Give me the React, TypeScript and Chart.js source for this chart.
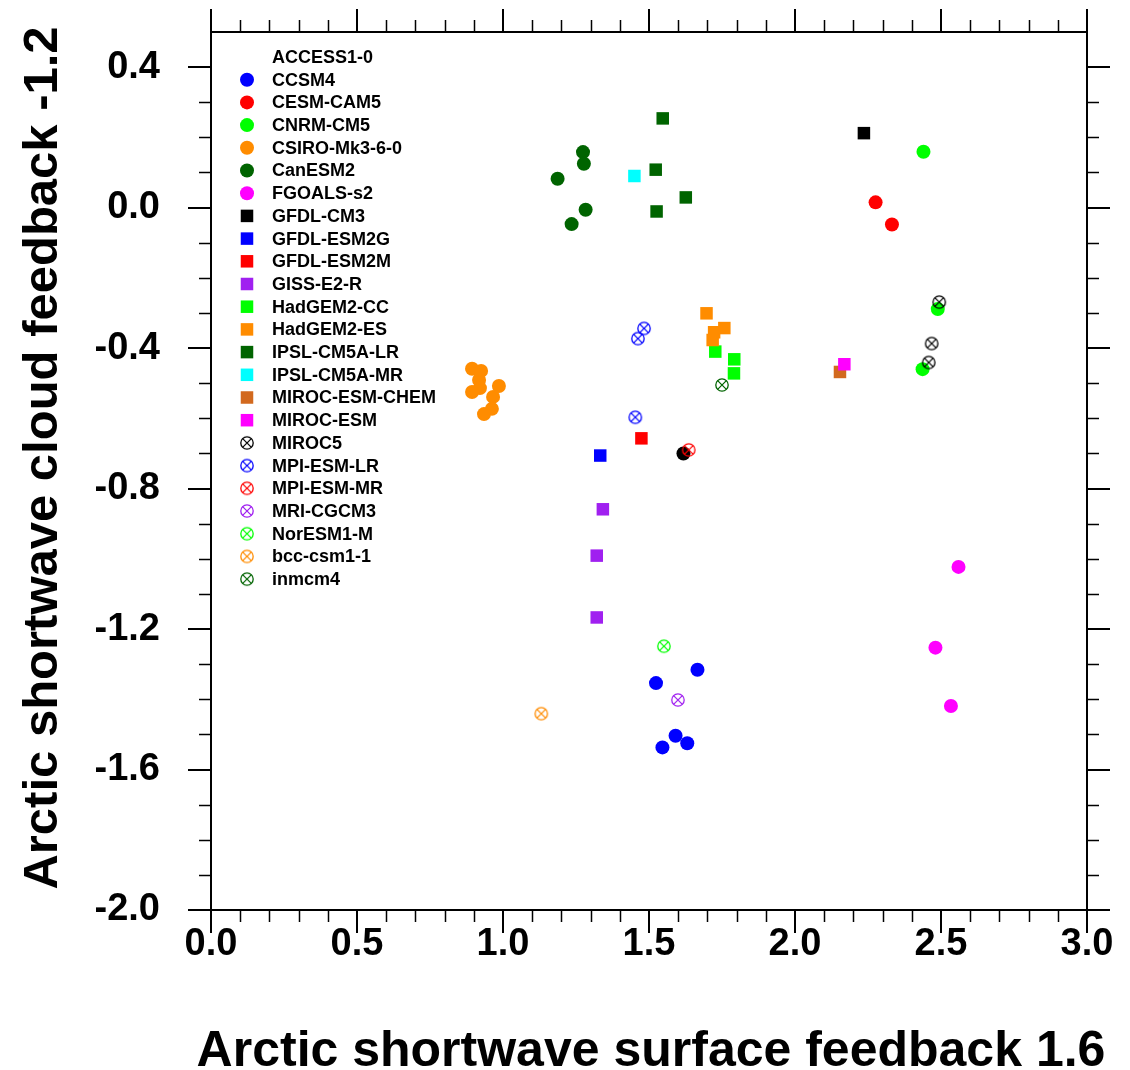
import React, { useEffect, useRef } from "react";
import { Chart, registerables } from "chart.js";

Chart.register(...registerables);

// ---------- data ----------
const MODEL_NAMES = [
  "ACCESS1-0", "CCSM4", "CESM-CAM5", "CNRM-CM5", "CSIRO-Mk3-6-0", "CanESM2",
  "FGOALS-s2", "GFDL-CM3", "GFDL-ESM2G", "GFDL-ESM2M", "GISS-E2-R", "HadGEM2-CC",
  "HadGEM2-ES", "IPSL-CM5A-LR", "IPSL-CM5A-MR", "MIROC-ESM-CHEM", "MIROC-ESM",
  "MIROC5", "MPI-ESM-LR", "MPI-ESM-MR", "MRI-CGCM3", "NorESM1-M", "bcc-csm1-1", "inmcm4",
];

const ACCESS1_0: [number, number][] = [[1.618, -0.7]];
const CCSM4: [number, number][] = [[1.666, -1.316], [1.524, -1.354], [1.591, -1.504], [1.631, -1.525], [1.546, -1.537]];
const CESM_CAM5: [number, number][] = [[2.276, 0.015], [2.332, -0.048]];
const CNRM_CM5: [number, number][] = [[2.44, 0.159], [2.489, -0.289], [2.437, -0.46]];
const CSIRO_MK3_6_0: [number, number][] = [
  [0.894, -0.459], [0.925, -0.465], [0.918, -0.491], [0.921, -0.514], [0.894, -0.525],
  [0.986, -0.508], [0.966, -0.539], [0.962, -0.573], [0.935, -0.588],
];
const CANESM2: [number, number][] = [[1.274, 0.158], [1.277, 0.125], [1.187, 0.082], [1.283, -0.006], [1.235, -0.047]];
const FGOALS_S2: [number, number][] = [[2.56, -1.023], [2.481, -1.253], [2.534, -1.419]];
const GFDL_CM3: [number, number][] = [[2.236, 0.212]];
const GFDL_ESM2G: [number, number][] = [[1.333, -0.706]];
const GFDL_ESM2M: [number, number][] = [[1.474, -0.657]];
const GISS_E2_R: [number, number][] = [[1.342, -0.859], [1.321, -0.991], [1.321, -1.167]];
const HADGEM2_CC: [number, number][] = [[1.727, -0.41], [1.792, -0.432], [1.791, -0.472]];
const HADGEM2_ES: [number, number][] = [[1.697, -0.301], [1.758, -0.343], [1.723, -0.355], [1.718, -0.377]];
const IPSL_CM5A_LR: [number, number][] = [[1.547, 0.254], [1.523, 0.108], [1.626, 0.029], [1.526, -0.011]];
const IPSL_CM5A_MR: [number, number][] = [[1.45, 0.09]];
const MIROC_ESM_CHEM: [number, number][] = [[2.154, -0.468]];
const MIROC_ESM: [number, number][] = [[2.169, -0.446]];
const MIROC5: [number, number][] = [[2.494, -0.269], [2.468, -0.387], [2.458, -0.441]];
const MPI_ESM_LR: [number, number][] = [[1.483, -0.344], [1.462, -0.373], [1.453, -0.597]];
const MPI_ESM_MR: [number, number][] = [[1.636, -0.69]];
const MRI_CGCM3: [number, number][] = [[1.599, -1.402]];
const NORESM1_M: [number, number][] = [[1.551, -1.249]];
const BCC_CSM1_1: [number, number][] = [[1.131, -1.441]];
const INMCM4: [number, number][] = [[1.75, -0.505]];

const SERIES_POINTS = [
  ACCESS1_0, CCSM4, CESM_CAM5, CNRM_CM5, CSIRO_MK3_6_0, CANESM2, FGOALS_S2, GFDL_CM3,
  GFDL_ESM2G, GFDL_ESM2M, GISS_E2_R, HADGEM2_CC, HADGEM2_ES, IPSL_CM5A_LR, IPSL_CM5A_MR,
  MIROC_ESM_CHEM, MIROC_ESM, MIROC5, MPI_ESM_LR, MPI_ESM_MR, MRI_CGCM3, NORESM1_M, BCC_CSM1_1, INMCM4,
];

const X_MAJOR = [0.0, 0.5, 1.0, 1.5, 2.0, 2.5, 3.0];
const X_MINOR = [0.1, 0.2, 0.3, 0.4, 0.6, 0.7, 0.8, 0.9, 1.1, 1.2, 1.3, 1.4, 1.6, 1.7, 1.8, 1.9, 2.1, 2.2, 2.3, 2.4, 2.6, 2.7, 2.8, 2.9];
const Y_MAJOR = [-2.0, -1.6, -1.2, -0.8, -0.4, 0.0, 0.4];
const Y_MINOR = [-1.9, -1.8, -1.7, -1.5, -1.4, -1.3, -1.1, -1.0, -0.9, -0.7, -0.6, -0.5, -0.3, -0.2, -0.1, 0.1, 0.2, 0.3];

const X_TITLE = "Arctic shortwave surface feedback 1.6";
const Y_TITLE = "Arctic shortwave cloud feedback -1.2";

// ---------- styles ----------
const COLORS = [
  "#000000", "#0000FF", "#FF0000", "#00FF00", "#FF8C00", "#006400", "#FF00FF", "#000000",
  "#0000FF", "#FF0000", "#A020F0", "#00FF00", "#FF8C00", "#006400", "#00FFFF", "#D2691E",
  "#FF00FF", "#000000", "#0000FF", "#FF0000", "#A020F0", "#00FF00", "#FF8C00", "#006400",
];
const MARKERS = [
  "dot", "dot", "dot", "dot", "dot", "dot", "dot", "square", "square", "square", "square", "square",
  "square", "square", "square", "square", "square", "xcircle", "xcircle", "xcircle", "xcircle", "xcircle", "xcircle", "xcircle",
];
const LEGEND_MARKER_HIDDEN = [true];

const FONT = "'Liberation Sans', Arial, Helvetica, sans-serif";
const CIRCLE_R = 7;
const SQUARE_SIDE = 12.5;

function makeXCircle(color: string): HTMLCanvasElement {
  const c = document.createElement("canvas");
  c.width = 16;
  c.height = 16;
  const g = c.getContext("2d")!;
  g.strokeStyle = color;
  g.lineWidth = 1.3;
  g.beginPath();
  g.arc(8, 8, 6.2, 0, Math.PI * 2);
  g.stroke();
  const d = 6.2 * Math.SQRT1_2;
  g.beginPath();
  g.moveTo(8 - d, 8 - d);
  g.lineTo(8 + d, 8 + d);
  g.moveTo(8 + d, 8 - d);
  g.lineTo(8 - d, 8 + d);
  g.stroke();
  return c;
}

function noPad(s: any) {
  s.paddingTop = 0;
  s.paddingBottom = 0;
  s.paddingLeft = 0;
  s.paddingRight = 0;
}

export default function App() {
  const canvasRef = useRef<HTMLCanvasElement | null>(null);

  useEffect(() => {
    const canvas = canvasRef.current;
    if (!canvas) return;

    const images = COLORS.map((c, i) => (MARKERS[i] === "xcircle" ? makeXCircle(c) : null));

    const datasets = SERIES_POINTS.map((pts, i) => {
      const m = MARKERS[i];
      return {
        label: MODEL_NAMES[i],
        data: pts.map(([x, y]) => ({ x, y })),
        pointStyle: m === "xcircle" ? images[i] : m === "square" ? "rect" : "circle",
        pointRadius: m === "square" ? SQUARE_SIDE / Math.SQRT2 : CIRCLE_R,
        pointBackgroundColor: COLORS[i],
        pointBorderColor: COLORS[i],
        pointBorderWidth: 0,
        order: SERIES_POINTS.length - i,
      };
    });

    const minorTicks = {
      id: "minorTicks",
      afterDraw(chart: any) {
        const ctx = chart.ctx;
        const { left, right, top, bottom } = chart.chartArea;
        const xs = chart.scales.x;
        const ys = chart.scales.y;
        ctx.save();
        ctx.strokeStyle = "#000";
        ctx.lineWidth = 1.5;
        ctx.beginPath();
        X_MINOR.forEach((v) => {
          const px = Math.round(xs.getPixelForValue(v)) + 0.5;
          ctx.moveTo(px, bottom);
          ctx.lineTo(px, bottom + 12);
          ctx.moveTo(px, top);
          ctx.lineTo(px, top - 12);
        });
        Y_MINOR.forEach((v) => {
          const py = Math.round(ys.getPixelForValue(v)) + 0.5;
          ctx.moveTo(left, py);
          ctx.lineTo(left - 12, py);
          ctx.moveTo(right, py);
          ctx.lineTo(right + 12, py);
        });
        ctx.stroke();
        ctx.restore();
      },
    };

    const axisTitles = {
      id: "axisTitles",
      afterDraw(chart: any) {
        const ctx = chart.ctx;
        const { left, right } = chart.chartArea;
        ctx.save();
        ctx.fillStyle = "#000";
        ctx.textAlign = "center";
        ctx.textBaseline = "alphabetic";
        ctx.font = `bold 50px ${FONT}`;
        ctx.fillText(X_TITLE, (left + right) / 2 + 2, 1066);
        ctx.translate(57, 458);
        ctx.rotate(-Math.PI / 2);
        ctx.font = `bold 49px ${FONT}`;
        ctx.fillText(Y_TITLE, 0, 0);
        ctx.restore();
      },
    };

    const legendPlugin = {
      id: "insideLegend",
      afterDraw(chart: any) {
        const ctx = chart.ctx;
        const markerX = 247;
        const textX = 272;
        const y0 = 57;
        const dy = 22.7;
        ctx.save();
        ctx.font = `bold 18px ${FONT}`;
        ctx.textBaseline = "middle";
        ctx.textAlign = "left";
        MODEL_NAMES.forEach((name, i) => {
          const y = y0 + i * dy;
          if (!LEGEND_MARKER_HIDDEN[i]) {
            const m = MARKERS[i];
            ctx.fillStyle = COLORS[i];
            if (m === "dot") {
              ctx.beginPath();
              ctx.arc(markerX, y, CIRCLE_R, 0, Math.PI * 2);
              ctx.fill();
            } else if (m === "square") {
              ctx.fillRect(markerX - SQUARE_SIDE / 2, y - SQUARE_SIDE / 2, SQUARE_SIDE, SQUARE_SIDE);
            } else {
              const img = images[i]!;
              ctx.drawImage(img, markerX - img.width / 2, y - img.height / 2);
            }
          }
          ctx.fillStyle = "#000";
          ctx.fillText(name, textX, y + 1);
        });
        ctx.restore();
      },
    };

    const tickFont = { family: FONT, size: 38, weight: "bold" as const, lineHeight: 1 };
    const gridOpts = { drawOnChartArea: false, drawTicks: true, tickLength: 23, color: "#000", lineWidth: 2 };
    const borderOpts = { display: true, color: "#000", width: 2 };

    const chart = new Chart(canvas, {
      type: "scatter",
      data: { datasets: datasets as any },
      plugins: [minorTicks, axisTitles, legendPlugin],
      options: {
        responsive: false,
        animation: false,
        events: [],
        layout: { padding: 0 },
        plugins: { legend: { display: false }, tooltip: { enabled: false }, title: { display: false } },
        scales: {
          x: {
            type: "linear",
            position: "bottom",
            min: 0,
            max: 3,
            afterBuildTicks: (s: any) => { s.ticks = X_MAJOR.map((v) => ({ value: v })); },
            afterFit: (s: any) => { s.height = 160; noPad(s); },
            grid: gridOpts,
            border: borderOpts,
            ticks: {
              color: "#000",
              font: tickFont,
              padding: -7,
              maxRotation: 0,
              autoSkip: false,
              callback: (v: any) => Number(v).toFixed(1),
            },
          },
          x2: {
            type: "linear",
            position: "top",
            min: 0,
            max: 3,
            afterBuildTicks: (s: any) => { s.ticks = X_MAJOR.map((v) => ({ value: v })); },
            afterFit: (s: any) => { s.height = 32; noPad(s); },
            grid: gridOpts,
            border: borderOpts,
            ticks: { display: false },
          },
          y: {
            type: "linear",
            position: "left",
            min: -2,
            max: 0.5,
            afterBuildTicks: (s: any) => { s.ticks = Y_MAJOR.map((v) => ({ value: v })); },
            afterFit: (s: any) => { s.width = 211; noPad(s); },
            grid: gridOpts,
            border: borderOpts,
            ticks: {
              color: "#000",
              font: tickFont,
              padding: 28,
              autoSkip: false,
              callback: (v: any) => Number(v).toFixed(1),
            },
          },
          y2: {
            type: "linear",
            position: "right",
            min: -2,
            max: 0.5,
            afterBuildTicks: (s: any) => { s.ticks = Y_MAJOR.map((v) => ({ value: v })); },
            afterFit: (s: any) => { s.width = 43; noPad(s); },
            grid: gridOpts,
            border: borderOpts,
            ticks: { display: false },
          },
        },
      } as any,
    });

    return () => chart.destroy();
  }, []);

  return (
    <div style={{ position: "fixed", left: 0, top: 0, width: 1130, height: 1070, background: "#fff" }}>
      <canvas ref={canvasRef} width={1130} height={1070} style={{ display: "block", width: 1130, height: 1070 }} />
    </div>
  );
}
